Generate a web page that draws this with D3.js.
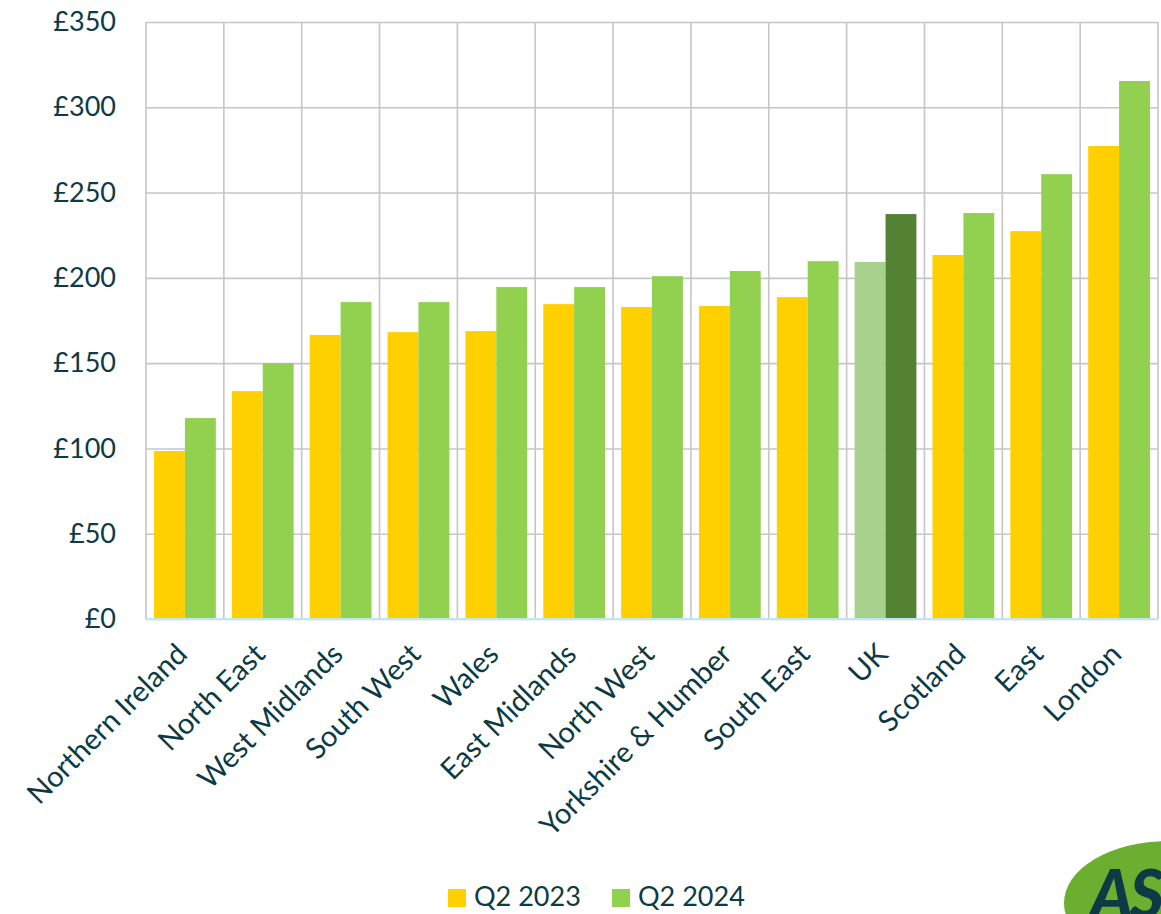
<!DOCTYPE html>
<html>
<head>
<meta charset="utf-8">
<script src="https://cdn.jsdelivr.net/npm/d3@7"></script>
<style>
  body { margin: 0; background: #fff; }
  svg { display: block; font-family: Lato, "Open Sans", sans-serif; }
</style>
</head>
<body>
<div id="chart"></div>
<script>
// regions, sorted by the Q2 2024 value
const categories = ['Northern Ireland', 'North East', 'West Midlands', 'South West', 'Wales',
  'East Midlands', 'North West', 'Yorkshire & Humber', 'South East', 'UK', 'Scotland', 'East', 'London'];
const q2023 = [98.5, 133.6, 166.5, 168.2, 168.8, 184.6, 182.9, 183.5, 188.7, 209.3, 213.4, 227.4, 277.3];
const q2024 = [117.8, 150, 185.8, 185.8, 194.6, 194.6, 201, 204, 209.8, 237.4, 238, 260.8, 315.4];
const seriesNames = ['Q2 2023', 'Q2 2024'];
const yTicks = [0, 50, 100, 150, 200, 250, 300, 350];

const W = 1161, H = 914;
const margin = { left: 146, top: 22, right: 3, bottom: 295 };
const width = W - margin.left - margin.right;
const height = H - margin.top - margin.bottom;

const textColor = '#0c3a45';
const colors = ['#ffd000', '#92d050'];
// UK bars get their own shades
const ukColors = ['#a9d18e', '#548235'];

const svg = d3.select('#chart').append('svg')
  .attr('width', W)
  .attr('height', H);

const g = svg.append('g')
  .attr('transform', `translate(${margin.left}, ${margin.top})`);

const x = d3.scaleBand()
  .domain(categories)
  .range([0, width])
  .padding(0);

const x1 = d3.scaleBand()
  .domain(seriesNames)
  .range([0, x.bandwidth()])
  .paddingInner(0)
  .paddingOuter(0.26);

const y = d3.scaleLinear()
  .domain([0, 350])
  .range([height, 0]);

// horizontal gridlines + labels
const yAxis = d3.axisLeft(y)
  .tickValues(yTicks)
  .tickSize(-width)
  .tickPadding(30)
  .tickFormat(d => '£' + d);

const yg = g.append('g').call(yAxis);
yg.select('.domain').remove();
yg.selectAll('.tick line').attr('stroke', '#c6c6c6').attr('stroke-width', 1.6);
yg.selectAll('.tick text')
  .attr('fill', textColor)
  .attr('font-size', 27)
  .attr('font-family', 'Lato, sans-serif');

// vertical gridlines at band edges
const edges = categories.map(c => x(c)).concat([width]);
g.append('g').selectAll('line')
  .data(edges)
  .join('line')
  .attr('x1', d => d).attr('x2', d => d)
  .attr('y1', 0).attr('y2', height)
  .attr('stroke', '#c6c6c6')
  .attr('stroke-width', 1.6);

// bars
const rows = categories.map((c, i) => ({ cat: c, vals: [q2023[i], q2024[i]] }));
const groups = g.append('g').selectAll('g')
  .data(rows)
  .join('g')
  .attr('transform', d => `translate(${x(d.cat)}, 0)`);

groups.selectAll('rect')
  .data(d => d.vals.map((v, j) => ({ cat: d.cat, s: seriesNames[j], j, v })))
  .join('rect')
  .attr('x', d => x1(d.s))
  .attr('width', x1.bandwidth())
  .attr('y', d => y(d.v))
  .attr('height', d => height - y(d.v))
  .attr('fill', d => d.cat === 'UK' ? ukColors[d.j] : colors[d.j]);

// baseline
g.append('line')
  .attr('x1', 0).attr('x2', width)
  .attr('y1', height).attr('y2', height)
  .attr('stroke', '#bfe6f4')
  .attr('stroke-width', 2);

// rotated category labels
const xAxis = d3.axisBottom(x).tickSize(0).tickPadding(0);
const xg = g.append('g')
  .attr('transform', `translate(0, ${height})`)
  .call(xAxis);
xg.select('.domain').remove();
xg.selectAll('.tick text')
  .attr('fill', textColor)
  .attr('font-size', 29)
  .attr('font-family', 'Lato, sans-serif')
  .attr('text-anchor', 'end')
  .attr('dy', 0)
  .attr('transform', 'translate(4, 37) rotate(-45)');

// legend
const legend = svg.append('g')
  .attr('transform', 'translate(448, 889)');
const items = legend.selectAll('g')
  .data(seriesNames)
  .join('g')
  .attr('transform', (d, i) => `translate(${i * 164}, 0)`);
items.append('rect')
  .attr('width', 18).attr('height', 18)
  .attr('fill', (d, i) => colors[i]);
items.append('text')
  .attr('x', 26).attr('y', 17)
  .attr('fill', textColor)
  .attr('font-size', 27)
  .text(d => d);

// logo in the bottom corner (cut off by the page edge)
const logo = svg.append('g');
logo.append('ellipse')
  .attr('cx', 1168).attr('cy', 903)
  .attr('rx', 104).attr('ry', 62)
  .attr('fill', '#6cae2f');
logo.append('text')
  .attr('x', 1090).attr('y', 918)
  .attr('fill', '#0c3a45')
  .attr('font-size', 66)
  .attr('font-weight', 900)
  .attr('font-style', 'italic')
  .attr('letter-spacing', -3)
  .attr('font-family', 'Lato, sans-serif')
  .text('ASDA');
</script>
</body>
</html>
